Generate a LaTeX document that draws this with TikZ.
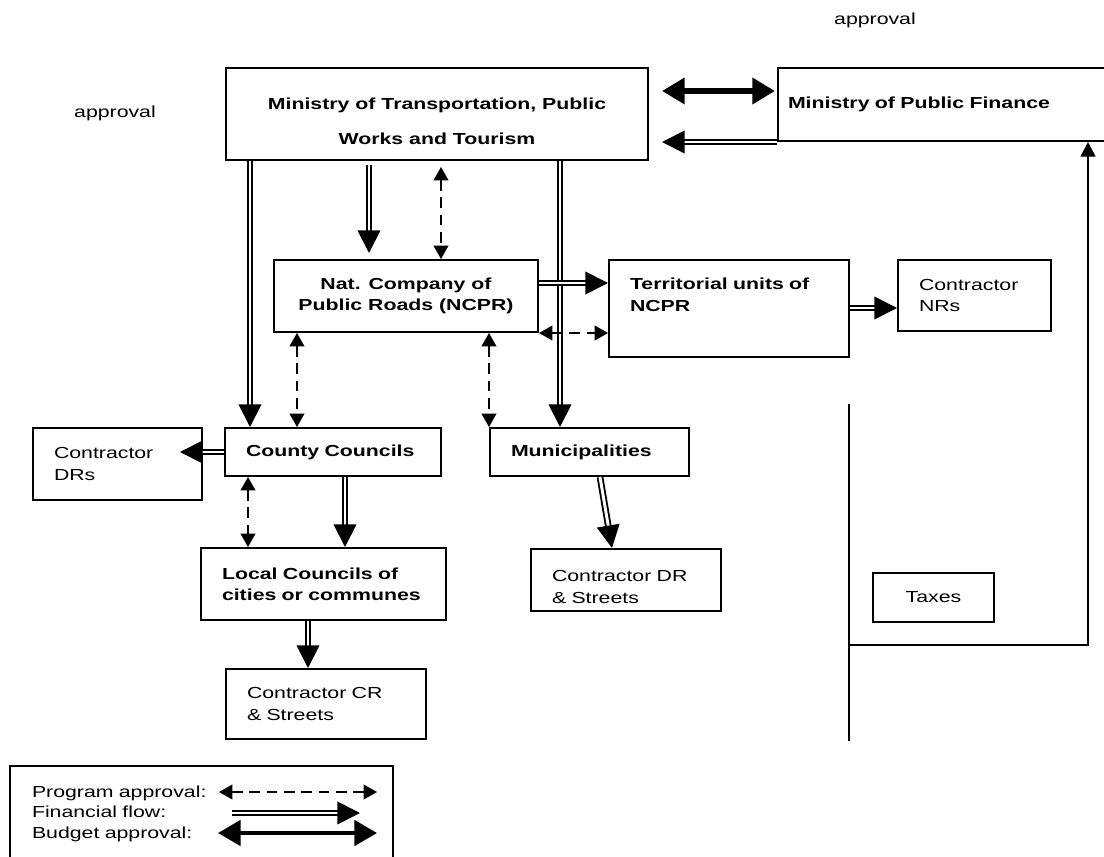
\documentclass[tikz,border=0pt]{standalone}
\usepackage{fontspec}
\setmainfont{Liberation Sans}[FakeStretch=1.33]
\usetikzlibrary{arrows.meta,calc}

\begin{document}
\begin{tikzpicture}
                [
                x=0.75pt, y=-0.75pt,
                every node/.style={font=\fontsize{12}{16}\selectfont},
                unit/.style={draw, line width=1.5pt, anchor=north west, inner xsep=15.75pt, inner ysep=0pt, align=left},
                main/.style={unit, font=\fontsize{12}{16}\selectfont\bfseries},
                flow/.style={double, double distance=2.2pt, line width=1.4pt, -{Triangle[length=17pt,width=17pt]}},
                approve/.style={line width=1.3pt, dash pattern=on 8pt off 5pt, {Triangle[length=10pt,width=11pt]}-{Triangle[length=10pt,width=11pt]}},
                budget/.style={line width=5pt, {Triangle[length=17pt,width=19pt]}-{Triangle[length=17pt,width=19pt]}},
                taxline/.style={line width=2pt}
                ]
                \useasboundingbox (0,0) rectangle (1104,857);
                % Ministries
                \node[main, align=center, minimum width=316.5pt, minimum height=69pt, text height=45.9pt] (mot) at (225,67) {Ministry of Transportation, Public\\[10.25pt]Works and Tourism};
                \node[main, inner xsep=7.5pt, text width=246pt, minimum height=54.75pt] (mpf) at (777,67) {Ministry of Public Finance};
                \node (apptop) at (875,20) {approval};
                \node (appleft) at (115,113) {approval};
                % Road administration
                \node[main, align=center, minimum width=198pt, minimum height=54pt] (ncpr) at (273,259) {Nat. Company of\\Public Roads (NCPR)};
                \node[main, text width=148.5pt, minimum height=72.75pt, text depth=36.6pt] (terr) at (608,259) {Territorial units of\\NCPR};
                \node[unit, text width=83.25pt, minimum height=53.25pt] (cnr) at (897,259) {Contractor\\NRs};
                % Councils
                \node[main, text width=130.5pt, minimum height=36pt] (county) at (224,427) {County Councils};
                \node[unit, text width=95.25pt, minimum height=54pt] (cdr) at (32,427) {Contractor\\DRs};
                \node[main, text width=117.75pt, minimum height=36pt] (muni) at (489,427) {Municipalities};
                \node[main, text width=152.25pt, minimum height=54pt] (local) at (200,547) {Local Councils of\\cities or communes};
                \node[unit, text width=111pt, minimum height=46.5pt, text height=19.1pt] (cdrs) at (530,548) {Contractor DR\\\& Streets};
                \node[unit, text width=118.5pt, minimum height=52.5pt] (ccr) at (225,668) {Contractor CR\\\& Streets};
                \node[unit, align=center, minimum width=90.75pt, minimum height=36.75pt] (taxes) at (872,572) {Taxes};
                % Legend
                \node[unit, inner xsep=16.5pt, text width=254.25pt, minimum height=71.25pt] (legend) at (9,765) {Program approval:\\[-0.6pt]Financial flow:\\[-0.6pt]Budget approval:};

                % Between the ministries
                \draw[budget, shorten <=9.75pt, shorten >=1.5pt] ([yshift=-18pt]mot.north east) -- ([yshift=-18pt]mpf.north west);
                \draw[flow, shorten >=9.75pt] (mpf.south west) -- (mpf.south west -| mot.east);
                % From the ministry downwards
                \draw[flow] ($(mot.south -| county.north west)+(26,0)$) -- ($(county.north west)+(26,0)$);
                \draw[flow, shorten <=3pt, shorten >=4.5pt] ($(mot.south -| ncpr.north west)+(96,0)$) -- ($(ncpr.north west)+(96,0)$);
                \draw[approve, shorten <=4.5pt] ($(mot.south -| ncpr.north west)+(168,0)$) -- ($(ncpr.north west)+(168,0)$);
                \draw[flow] ($(mot.south -| muni.north west)+(71,0)$) -- ($(muni.north west)+(71,0)$);
                % NCPR
                \draw[flow] ($(ncpr.north east)+(0,24)$) -- ($(ncpr.north east -| terr.west)+(0,24)$);
                \draw[approve] (ncpr.south east) -- (ncpr.south east -| terr.west);
                \draw[flow] ($(terr.north east)+(0,49)$) -- ($(terr.north east -| cnr.west)+(0,49)$);
                \draw[approve] ($(ncpr.south -| county.north west)+(73,0)$) -- ($(county.north west)+(73,0)$);
                \draw[approve] (ncpr.south -| muni.north west) -- (muni.north west);
                % Councils
                \draw[flow, shorten >=-17.25pt] (county.west) -- (county.west -| cdr.east);
                \draw[flow] ($(county.south -| local.north west)+(145,0)$) -- ($(local.north west)+(145,0)$);
                \draw[approve] ($(county.south -| local.north west)+(48,0)$) -- ($(local.north west)+(48,0)$);
                \draw[flow] ($(muni.south west)+(111,0)$) -- ($(cdrs.north west)+(82,0)$);
                \draw[flow] ($(local.south -| ccr.north west)+(83,0)$) -- ($(ccr.north west)+(83,0)$);
                % Taxes
                \coordinate (taxtop) at (849,404);
                \coordinate (taxbottom) at (849,741);
                \coordinate (taxjoin) at (849,645);
                \draw[taxline] (taxtop) -- (taxbottom);
                \draw[taxline, -{Triangle[length=11pt,width=11pt]}] (taxjoin) -| ($(mpf.south west)+(311,0)$);
                % Legend arrows
                \coordinate (progfrom) at (219,792);
                \coordinate (progto) at (377,792);
                \coordinate (finfrom) at (232,813);
                \coordinate (finto) at (360,813);
                \coordinate (budfrom) at (218,833);
                \coordinate (budto) at (377,833);
                \draw[approve] (progfrom) -- (progto);
                \draw[flow] (finfrom) -- (finto);
                \draw[budget, line width=3pt] (budfrom) -- (budto);
            \end{tikzpicture}
\end{document}
